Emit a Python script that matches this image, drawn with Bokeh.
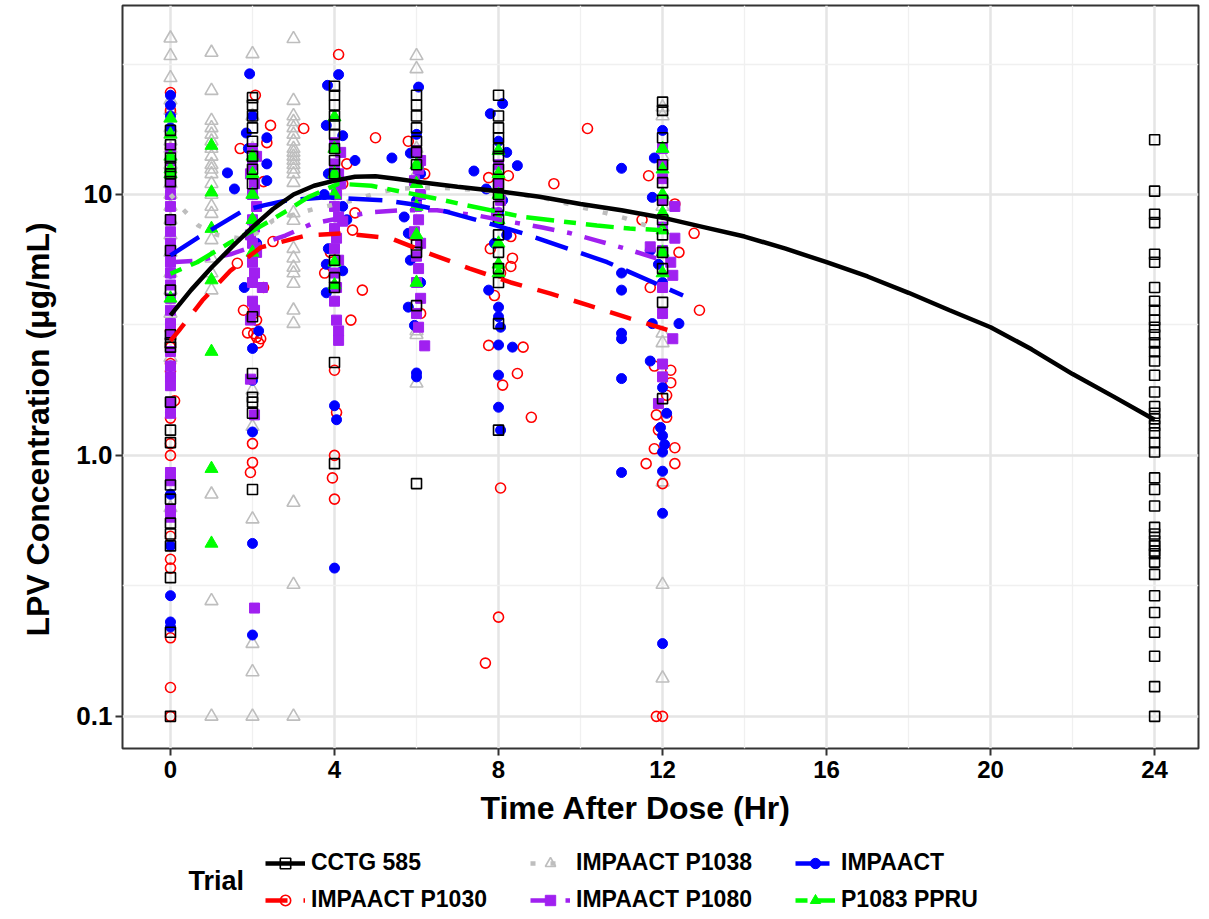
from bokeh.plotting import figure
from bokeh.layouts import column
from bokeh.models import FixedTicker, CustomJSTickFormatter, Legend, LegendItem, Label, Title
from bokeh.embed import file_html
from bokeh.resources import INLINE

FONT = "Liberation Sans"
NAN = float("nan")

x_major = [0, 4, 8, 12, 16, 20, 24]
x_minor = [2, 6, 10, 14, 18, 22]
y_major = [0.1, 1.0, 10.0]
y_minor = [0.3162, 3.162, 31.62]

x_title = "Time After Dose (Hr)"
y_title = "LPV Concentration (μg/mL)"
trials = ["CCTG 585", "IMPAACT P1030", "IMPAACT P1038", "IMPAACT P1080", "IMPAACT", "P1083 PPRU"]
colors = ["black", "#FF0000", "#BEBEBE", "#A020F0", "#0000FF", "#00FF00"]

# ---- observed concentrations (time hr, conc ug/mL) ----
cctg_pts = [
    (0, 17.6), (0, 15.5), (0, 13.8), (0, 12.8), (0, 12.0), (0, 11.2), (0, 8.0), (0, 6.1), (0, 4.3), (0, 2.9),
    (0, 2.7), (0, 2.6), (0, 1.6), (0, 1.25), (0, 1.12), (0, 0.77), (0, 0.68), (0, 0.55), (0, 0.50), (0, 0.45),
    (0, 0.34), (0, 0.21), (0, 0.10),
    (2, 23.5), (2, 22), (2, 20), (2, 18), (2, 16), (2, 14), (2, 12.5), (2, 11), (2, 3.4), (2, 2.06), (2, 1.67),
    (2, 1.6), (2, 1.45), (2, 0.74),
    (4, 26), (4, 24), (4, 22), (4, 20), (4, 18.5), (4, 17), (4, 15), (4, 13.5), (4, 12), (4, 5.6), (4, 4.8),
    (4, 4.4), (4, 2.27), (4, 0.93),
    (6, 24), (6, 22), (6, 20), (6, 18), (6, 16), (6, 14.5), (6, 13), (6, 6.4), (6, 6.0), (6, 3.75), (6, 0.78),
    (8, 24), (8, 20), (8, 18), (8, 16.5), (8, 15), (8, 14), (8, 12.5), (8, 11), (8, 10), (8, 9), (8, 8), (8, 7),
    (8, 6), (8, 5.2), (8, 4.6), (8, 3.2), (8, 1.25),
    (12, 22.6), (12, 21), (12, 16.5), (12, 13), (12, 11.1), (12, 9.5), (12, 8.0), (12, 7.0), (12, 6.0), (12, 5.2),
    (12, 3.86), (12, 1.65),
    (24, 16.2), (24, 10.3), (24, 8.4), (24, 7.8), (24, 5.9), (24, 5.5), (24, 4.4), (24, 3.9), (24, 3.6), (24, 3.3),
    (24, 3.1), (24, 2.9), (24, 2.7), (24, 2.5), (24, 2.3), (24, 2.03), (24, 1.75), (24, 1.54), (24, 1.45), (24, 1.38),
    (24, 1.3), (24, 1.22), (24, 1.12), (24, 1.03), (24, 0.82), (24, 0.74), (24, 0.64), (24, 0.53), (24, 0.50),
    (24, 0.47), (24, 0.45), (24, 0.43), (24, 0.42), (24, 0.39), (24, 0.35), (24, 0.29), (24, 0.25), (24, 0.21),
    (24, 0.17), (24, 0.13), (24, 0.10),
]

p1030_pts = [
    (0, 24.6), (0, 21), (0, 15), (0, 12), (0, 3.0), (0, 2.6), (0, 2.25), (0, 2.1), (0.1, 1.62), (0, 1.39), (0, 1.11),
    (0, 1.0), (0, 0.49), (0, 0.4), (0, 0.37), (0, 0.2), (0, 0.129), (0, 0.1),
    (2.07, 24), (2.44, 18.4), (1.7, 15), (2.35, 15.8), (2.27, 11.2), (2.5, 6.6), (2.27, 4.4), (2.03, 3.5),
    (1.78, 3.6), (1.88, 2.95), (2.03, 2.93), (2.1, 2.84), (2.2, 2.8), (1.63, 5.45), (2.0, 1.11), (2.0, 0.94),
    (1.95, 0.86), (2.1, 3.3), (2.15, 2.7), (3.25, 17.9),
    (4.1, 34.4), (5.0, 16.5), (4.68, 4.3), (3.76, 5.0), (4.44, 7.3), (4.3, 13.1), (4.5, 8.5), (4.0, 2.12),
    (4.05, 1.46), (4.0, 1.0), (3.95, 0.82), (4.0, 0.68), (4.4, 3.3), (3.9, 6.0), (4.2, 11.0),
    (5.9, 7.0), (6.1, 3.5), (6.2, 12.0), (5.8, 16),
    (8.24, 11.8), (7.9, 4.1), (8.34, 5.7), (8.3, 6.9), (7.76, 11.6), (7.8, 6.2), (8.3, 5.3), (8.6, 2.6),
    (8.46, 2.06), (8.8, 1.4), (8.05, 5.0), (7.68, 0.16), (8.0, 0.24), (8.05, 0.75), (7.76, 2.64), (8.1, 1.86),
    (9.35, 11.0), (10.17, 17.9),
    (11.66, 11.8), (12.3, 9.2), (12.77, 7.1), (12.9, 3.6), (11.7, 4.4), (11.8, 2.2), (12.2, 2.12), (12.2, 1.9),
    (12.1, 1.7), (11.85, 1.43), (12.3, 1.07), (11.8, 1.06), (11.6, 0.93), (12.3, 0.93), (12.0, 0.78),
    (11.85, 0.1), (12.0, 0.1), (11.5, 8.0), (12.4, 6.0), (12.1, 1.4), (11.9, 1.25),
]

p1038_pts = [
    (0, 39.7), (0, 34), (0, 28), (0, 23), (0, 21), (0, 19.6), (0, 18), (0, 17), (0, 16), (0, 15), (0, 14), (0, 13),
    (0, 12), (0, 11), (0, 10), (0, 9), (0, 8), (0, 7), (0, 6), (0, 5), (0, 4.3), (0, 3.5), (0, 2.37), (0, 0.63),
    (1, 35), (1, 25), (1, 19.2), (1, 18), (1, 17), (1, 16), (1, 15), (1, 14), (1, 13), (1, 12.5), (1, 12), (1, 11),
    (1, 10), (1, 9), (1, 8.45), (1, 6.7), (1, 5.7), (1, 5.0), (1, 4.3), (1, 0.71), (1, 0.277), (1, 0.1),
    (2, 34.6), (2, 20), (2, 15), (2, 10), (2, 1.78), (2, 1.29), (2, 0.57), (2, 0.19), (2, 0.148), (2, 0.1),
    (3, 39.5), (3, 22.9), (3, 20), (3, 19), (3, 18), (3, 17), (3, 16), (3, 15), (3, 14.5), (3, 14), (3, 13.5),
    (3, 13), (3, 12.5), (3, 12), (3, 11.1), (3, 8.5), (3, 7.95), (3, 6.2), (3, 5.7), (3, 5.25), (3, 5.0),
    (3, 4.56), (3, 3.6), (3, 3.2), (3, 0.66), (3, 0.32), (3, 0.1),
    (4, 15), (4, 10),
    (6, 34), (6, 30.3), (6, 15), (6, 12), (6, 9), (6, 3.0), (6, 2.9), (6, 1.89),
    (12, 21.6), (12, 20), (12, 14), (12, 9), (12, 2.94), (12, 2.7), (12, 0.79), (12, 0.32), (12, 0.14),
]

p1080_pts = [
    (0, 15), (0, 13.5), (0, 12), (0, 11), (0, 10), (0, 9), (0, 8), (0, 7.2), (0, 6.5), (0, 6), (0, 5.5), (0, 5),
    (0, 4.5), (0, 4.0), (0, 3.6), (0, 3.2), (0, 2.9), (0, 2.5), (0, 2.2), (0, 2.0), (0, 1.85), (0, 1.6), (0, 1.45),
    (0, 0.86), (0, 0.8), (0, 0.62), (0, 0.58),
    (2.0, 15), (2.1, 14), (2.0, 13), (1.95, 12), (2.05, 11), (2.0, 10), (2.1, 9), (2.0, 8), (2.05, 7.5),
    (1.95, 7), (2.0, 6.5), (2.1, 6), (2.0, 5.5), (2.05, 5), (2.0, 4.6), (2.24, 4.4), (2.0, 3.9), (2.05, 3.6),
    (1.95, 3.3), (1.95, 1.96), (2.05, 1.43), (2.05, 0.26),
    (4.0, 15.8), (4.15, 14.5), (4.0, 13.1), (4.1, 12), (4.15, 11), (4.05, 10), (4.0, 9), (4.1, 8.2), (4.2, 7.9),
    (4.0, 7.4), (4.05, 6.8), (4.0, 6.2), (4.1, 5.6), (4.0, 5), (4.05, 4.4), (4.0, 3.9), (4.05, 3.3),
    (4.1, 3.0), (4.1, 2.76),
    (6.0, 14.7), (6.1, 13.5), (6.05, 12.5), (5.95, 11.3), (6.1, 10), (6.0, 9), (6.05, 8), (5.95, 7.2),
    (6.1, 6.5), (6.0, 5.8), (6.05, 5.2), (6.0, 4.6), (6.1, 4.0), (6.0, 3.5), (6.05, 3.1), (6.2, 2.63),
    (8.0, 13), (8.0, 11), (8.05, 9.5), (7.95, 8.5),
    (12, 15), (12, 13), (12, 11.5), (12, 9.5), (12.3, 9.0), (12, 7.5), (12.3, 6.8), (11.7, 6.3), (12, 6.1),
    (12.2, 5.5), (12.25, 4.9), (12, 4.4), (12, 3.5), (12.25, 2.8), (12, 2.24), (12, 2.0), (11.9, 1.58),
]

impaact_pts = [
    (0, 24), (0, 22), (0, 20), (0, 18), (0, 15), (0, 12), (0, 8), (0, 6), (0, 5), (0, 3.2), (0, 2.2), (0, 2.0),
    (0, 1.55), (0, 1.46), (0, 0.71), (0, 0.6), (0, 0.45), (0, 0.29), (0, 0.23), (0, 0.22),
    (1.93, 29), (1.39, 12.1), (1.56, 10.5), (1.85, 17.2), (1.9, 15), (2.35, 16.5), (2.35, 13.1), (2.35, 11.3),
    (2.0, 20), (2.0, 8), (2.1, 6.5), (2.0, 2.57), (2.0, 1.94), (2.0, 1.23), (2.0, 0.46), (2.0, 0.205),
    (1.8, 4.4), (2.15, 3.0),
    (4.1, 28.8), (3.83, 26.2), (3.8, 18.4), (4.2, 16.8), (4.5, 13.5), (5.4, 13.8), (3.85, 12), (3.75, 10),
    (3.85, 6.2), (3.8, 5.4), (4.2, 5.1), (3.8, 4.2), (4.0, 1.55), (4.05, 1.37), (4.0, 0.37), (4.2, 9), (4.3, 8),
    (6.05, 25.8), (5.85, 14.4), (5.7, 8.2), (5.8, 7.1), (5.85, 5.6), (5.8, 3.7), (5.95, 3.15), (6.0, 2.07),
    (6.0, 2.0), (6.0, 17), (6.1, 12), (6.0, 9.5), (6.1, 4.6),
    (7.4, 12.3), (7.8, 20.4), (8.1, 22.3), (8.2, 14.5), (8.46, 12.9), (8.34, 2.6), (7.76, 4.3), (8.0, 3.7),
    (8.0, 3.4), (8.05, 3.1), (8.0, 2.65), (8.0, 2.03), (8.0, 1.53), (8.05, 1.25), (8.0, 8.5), (7.9, 6.5),
    (8.1, 9.5), (8.0, 16), (7.7, 10.5), (8.2, 7.0),
    (11.0, 12.6), (11.0, 5.0), (11.0, 4.3), (11.0, 2.94), (11.0, 2.8), (11.0, 1.97), (11.0, 0.86),
    (12.0, 17.6), (11.8, 13.8), (11.75, 9.75), (11.7, 6.1), (11.9, 5.4), (12.0, 4.6), (11.75, 3.2), (12.4, 3.2),
    (11.7, 2.3), (12.0, 1.82), (11.95, 1.28), (12.0, 1.19), (12.05, 1.1), (12.0, 1.03), (12.0, 0.87),
    (12.0, 0.6), (12.0, 0.19), (12.1, 1.45),
]

ppru_pts = [
    (0, 19.6), (0, 17), (0, 14), (0, 12.5), (0, 12), (0, 4.0),
    (1, 15.4), (1, 10.2), (1, 7.4), (1, 4.7), (1, 2.5), (1, 0.89), (1, 0.46),
    (2, 14), (2, 12), (2, 10), (2, 8), (2, 6),
    (4, 19.8), (4, 15), (4, 12), (4, 10), (4, 5.5), (4, 4.5),
    (6, 13), (6, 11), (6, 9), (6, 7), (6, 4.6),
    (8, 14.7), (8, 12), (8, 10), (8, 8), (8, 6.5), (8, 5.4), (8, 5.0),
    (12, 15), (12, 12.5), (12, 10), (12, 8.5), (12, 7.3), (12, 6), (12, 5),
]

# ---- smoothed mean curves (time hr, conc ug/mL) ----
cctg_fit = [(0, 3.44), (0.5, 4.3), (1, 5.25), (1.5, 6.3), (2, 7.5), (2.5, 8.8), (3, 10.0), (3.5, 10.8),
            (4, 11.3), (4.5, 11.7), (5, 11.75), (5.5, 11.5), (6, 11.2), (7, 10.7), (8, 10.3), (9, 9.8),
            (10, 9.2), (11, 8.7), (12, 8.15), (13, 7.5), (14, 6.9), (15, 6.2), (16, 5.5), (17, 4.85),
            (18, 4.2), (19, 3.6), (20, 3.1), (21, 2.55), (22, 2.05), (23, 1.68), (24, 1.37)]
p1030_fit = [(0, 2.75), (0.2, 3.0), (0.78, 3.93), (1.46, 5.1), (2.2, 6.27), (3.3, 6.96), (4.2, 7.1),
             (5.37, 6.8), (6.3, 5.95), (7.3, 5.2), (8.3, 4.6), (9.27, 4.17), (10.2, 3.76), (11.2, 3.35),
             (12.2, 3.0), (12.5, 2.96)]
p1038_fit = [(0, 10.0), (0.3, 8.8), (0.68, 7.6), (1.14, 7.0), (1.66, 6.8), (2.1, 7.1), (2.5, 7.95),
             (3.5, 8.8), (4.47, 9.5), (5.0, 10.1), (5.5, 10.5), (6, 10.6), (6.6, 10.6), (7.07, 10.5),
             (7.6, 10.4), (8.5, 10.0), (9.1, 9.7), (10.07, 8.9), (10.6, 8.5), (11.1, 8.1), (11.6, 7.6),
             (12, 7.3)]
p1080_fit = [(0, 5.5), (0.65, 5.58), (1.46, 5.9), (2.8, 6.96), (3.46, 7.74), (4.83, 8.53), (5.6, 8.7),
             (6.5, 8.7), (7.5, 8.3), (8.4, 7.8), (9.07, 7.47), (9.76, 7.1), (10.4, 6.66), (11.1, 6.2),
             (12.3, 5.4)]
impaact_fit = [(0, 5.84), (0.68, 6.85), (1.78, 8.68), (2.3, 9.1), (2.85, 9.5), (3.8, 9.75), (5.2, 9.5),
               (5.85, 9.2), (6.6, 8.7), (7.7, 7.8), (8.6, 7.1), (10.65, 5.5), (12.5, 4.1)]
ppru_fit = [(0, 4.97), (0.65, 5.5), (1.46, 6.55), (2.1, 7.4), (2.85, 8.68), (3.35, 9.75), (4.1, 11.0),
            (4.9, 10.8), (5.7, 10.2), (6.4, 9.7), (7.2, 9.1), (8.6, 8.2), (9.5, 7.9), (10.4, 7.6),
            (11.2, 7.4), (12.0, 7.3)]


def cols(pts):
    return [a for a, b in pts], [b for a, b in pts]


# marker / line styles per trial (same order as `trials`)
marker_kw = [
    dict(marker="square", size=10, fill_color=None, line_color=colors[0], line_width=1.6),
    dict(marker="circle", size=10, fill_color=None, line_color=colors[1], line_width=1.6),
    dict(marker="triangle", size=13, fill_color=None, line_color=colors[2], line_width=1.6),
    dict(marker="square", size=10, fill_color=colors[3], line_color=colors[3], line_width=1),
    dict(marker="circle", size=10, fill_color=colors[4], line_color=colors[4], line_width=1),
    dict(marker="triangle", size=13, fill_color=colors[5], line_color=colors[5], line_width=1),
]
line_kw = [
    dict(line_color=colors[0], line_width=4.5),
    dict(line_color=colors[1], line_width=4.5, line_dash="22 16"),
    dict(line_color=colors[2], line_width=4.5, line_dash="5 15"),
    dict(line_color=colors[3], line_width=4.5, line_dash="22 13 5 13"),
    dict(line_color=colors[4], line_width=4.5, line_dash="34 14"),
    dict(line_color=colors[5], line_width=4.5, line_dash="12 10 28 10"),
]
pts_list = [cctg_pts, p1030_pts, p1038_pts, p1080_pts, impaact_pts, ppru_pts]
fit_list = [cctg_fit, p1030_fit, p1038_fit, p1080_fit, impaact_fit, ppru_fit]

p = figure(width=1201, height=833, x_range=(-1.17, 25.07), y_range=(0.0753, 53.0),
           y_axis_type="log", output_backend="svg", toolbar_location=None,
           min_border_left=122, min_border_right=3, min_border_top=5, min_border_bottom=85)
p.background_fill_color = "white"
p.border_fill_color = "white"
p.outline_line_color = "#333333"
p.outline_line_width = 2

p.xaxis.ticker = FixedTicker(ticks=x_major, minor_ticks=x_minor)
p.yaxis.ticker = FixedTicker(ticks=y_major, minor_ticks=y_minor)
p.yaxis.formatter = CustomJSTickFormatter(code="return tick >= 10 ? tick.toFixed(0) : tick.toFixed(1);")

for g in (p.xgrid, p.ygrid):
    g.grid_line_color = "#E5E5E5"
    g.grid_line_width = 2.5
    g.minor_grid_line_color = "#F0F0F0"
    g.minor_grid_line_width = 1.3

for ax in (p.xaxis, p.yaxis):
    ax.axis_line_color = None
    ax.major_tick_line_color = "#333333"
    ax.major_tick_line_width = 2
    ax.major_tick_out = 7
    ax.major_tick_in = 0
    ax.minor_tick_line_color = None
    ax.major_label_text_font = FONT
    ax.major_label_text_font_style = "bold"
    ax.major_label_text_color = "black"

p.xaxis.major_label_text_font_size = "24px"
p.yaxis.major_label_text_font_size = "26px"
p.xaxis.major_label_standoff = 5
p.yaxis.major_label_standoff = 3

# axis titles (placed along the axis as in the reference)
p.add_layout(Title(text=x_title, align="left", offset=358, standoff=15,
                   text_font=FONT, text_font_style="bold", text_font_size="32px",
                   text_color="black"), "below")
p.add_layout(Title(text=y_title, align="left", offset=112, standoff=35,
                   text_font=FONT, text_font_style="bold", text_font_size="32px",
                   text_color="black"), "left")

# scatter points (drawn back to front) then mean curves on top
scatter_r = {}
for i in [2, 1, 4, 3, 5, 0]:
    x, y = cols(pts_list[i])
    scatter_r[i] = p.scatter(x, y, **marker_kw[i])
line_r = {}
for i in [2, 3, 1, 4, 5, 0]:
    x, y = cols(fit_list[i])
    line_r[i] = p.line(x, y, **line_kw[i])

# ---- legend strip below the plot (its frame is aligned with the plot frame: page x 122..1198) ----
q = figure(width=1201, height=80, x_range=(122, 1198), y_range=(0, 80),
           x_axis_type=None, y_axis_type=None, output_backend="svg", toolbar_location=None,
           min_border_left=122, min_border_right=3, min_border_top=0, min_border_bottom=0)
q.outline_line_color = None
q.grid.visible = False
q.background_fill_color = "white"
q.border_fill_color = "white"

items = []
for i in range(6):
    lr = q.line([NAN], [NAN], **line_kw[i])
    sr = q.scatter([NAN], [NAN], **marker_kw[i])
    items.append(LegendItem(label=trials[i], renderers=[lr, sr]))

legend = Legend(items=items, location=(143, 0), orientation="vertical", ncols=3,
                border_line_color=None, background_fill_alpha=0, padding=0, margin=0,
                label_text_font=FONT, label_text_font_style="bold", label_text_font_size="23px",
                label_text_color="black",
                label_standoff=6, glyph_width=40, glyph_height=26, label_height=20,
                label_width=209, spacing=10)
q.add_layout(legend)
q.add_layout(Label(x=188, y=33, text="Trial", text_font=FONT, text_font_style="bold",
                   text_font_size="27px", text_baseline="middle", text_align="left",
                   text_color="black"))

open("out.html", "w").write(file_html(column(p, q, spacing=0), INLINE))
